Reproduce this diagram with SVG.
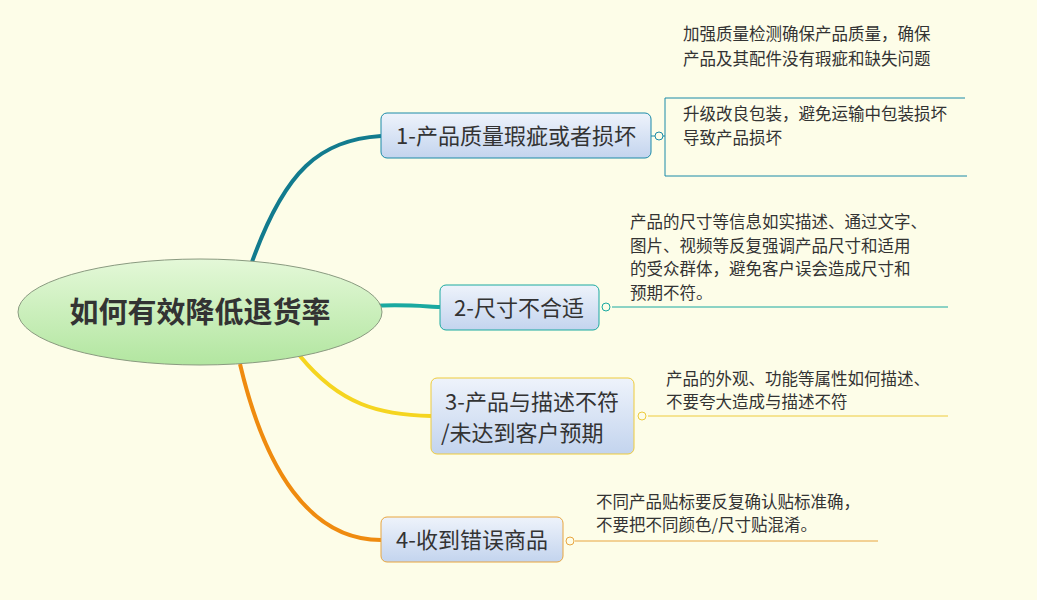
<svg xmlns="http://www.w3.org/2000/svg" width="1037" height="600" viewBox="0 0 1037 600">
<defs>
<linearGradient id="gc" x1="0" y1="0" x2="0" y2="1"><stop offset="0" stop-color="#e4f8d8"/><stop offset="1" stop-color="#b2e6a0"/></linearGradient>
<linearGradient id="gb" x1="0" y1="0" x2="0" y2="1"><stop offset="0" stop-color="#eef3fb"/><stop offset="1" stop-color="#c3d4ee"/></linearGradient>
</defs>
<style>
.t{font-family:"Noto Sans CJK SC","Liberation Sans",sans-serif;fill:#333}
.m{font-size:22px}.s{font-size:16.5px}
.b{fill:url(#gb);stroke-width:1}
.lf{fill:none;stroke-width:1}
</style>
<rect width="1037" height="600" fill="#fdfde8"/>
<g id="connectors" fill="none">
<path d="M252,262 C285,170 320,140 381,136" stroke="#127b8e" stroke-width="4"/>
<path d="M372,306 C400,304 420,306 440,307" stroke="#1aa9a0" stroke-width="4"/>
<path d="M300,356 C340,405 380,415 431,416" stroke="#f5d520" stroke-width="4"/>
<path d="M240,364 C265,470 310,540 381,540" stroke="#ef8b0f" stroke-width="4"/>
<path d="M651,136 H655 M663,136 H665 M665,98 V176 M665,98 H965 M665,176 H967" class="lf" stroke="#1a8aa8"/>
<path d="M612,307 H948" class="lf" stroke="#1aa9a0"/>
<path d="M648,416 H948" class="lf" stroke="#eecb3c"/>
<path d="M575,541 H878" class="lf" stroke="#e8a540"/>
<circle cx="659" cy="136" r="4" fill="#fdfde8" stroke="#1a8aa8"/>
<circle cx="606" cy="307" r="4" fill="#fdfde8" stroke="#1aa9a0"/>
<circle cx="642" cy="416" r="4" fill="#fdfde8" stroke="#eecb3c"/>
<circle cx="570" cy="541" r="4" fill="#fdfde8" stroke="#e8a540"/>
</g>
<g id="center">
<ellipse cx="200" cy="312" rx="182" ry="53" fill="url(#gc)" stroke="#8a9a80"/>
<text x="200" y="323" text-anchor="middle" class="t" font-size="29" font-weight="bold" fill="#3a3a3a">如何有效降低退货率</text>
</g>
<g id="n1"><rect x="381" y="113" width="270" height="45" rx="6" class="b" stroke="#1a8aa8"/><text x="516" y="144" text-anchor="middle" class="t m">1-产品质量瑕疵或者损坏</text></g>
<g id="n2"><rect x="440" y="285" width="159" height="45" rx="6" class="b" stroke="#1aa9a0"/><text x="519" y="316" text-anchor="middle" class="t m">2-尺寸不合适</text></g>
<g id="n3"><rect x="431" y="378" width="203" height="76" rx="6" class="b" stroke="#eecb3c"/><text x="532" y="410" text-anchor="middle" class="t m">3-产品与描述不符</text><text x="441" y="441" class="t m">/未达到客户预期</text></g>
<g id="n4"><rect x="381" y="517" width="182" height="45" rx="6" class="b" stroke="#e8a540"/><text x="472" y="548" text-anchor="middle" class="t m">4-收到错误商品</text></g>
<g id="leaf1a"><text x="683" y="40" class="t s">加强质量检测确保产品质量，确保</text><text x="683" y="65" class="t s">产品及其配件没有瑕疵和缺失问题</text></g>
<g id="leaf1b"><text x="683" y="120" class="t s">升级改良包装，避免运输中包装损坏</text><text x="683" y="144" class="t s">导致产品损坏</text></g>
<g id="leaf2"><text x="630" y="228" class="t s">产品的尺寸等信息如实描述、通过文字、</text><text x="630" y="252" class="t s">图片、视频等反复强调产品尺寸和适用</text><text x="630" y="275" class="t s">的受众群体，避免客户误会造成尺寸和</text><text x="630" y="299" class="t s">预期不符。</text></g>
<g id="leaf3"><text x="666" y="385" class="t s">产品的外观、功能等属性如何描述、</text><text x="666" y="408" class="t s">不要夸大造成与描述不符</text></g>
<g id="leaf4"><text x="596" y="508" class="t s">不同产品贴标要反复确认贴标准确，</text><text x="596" y="531" class="t s">不要把不同颜色/尺寸贴混淆。</text></g>
</svg>
